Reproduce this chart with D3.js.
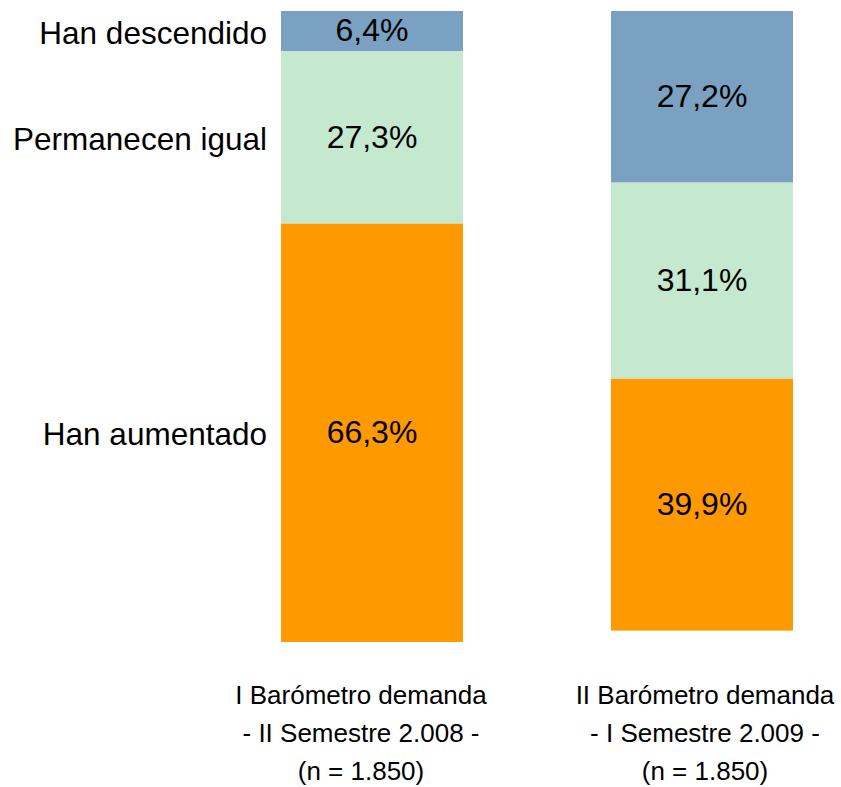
<!DOCTYPE html>
<html>
<head>
<meta charset="utf-8">
<script src="https://cdn.jsdelivr.net/npm/d3@7"></script>
<style>
  html, body { margin: 0; padding: 0; background: #fff; }
  svg { display: block; font-family: "Liberation Sans", Arial, sans-serif; }
</style>
</head>
<body>
<svg id="chart" width="841" height="787"></svg>
<script>
// ---- data ----
const periods = ["I Barómetro", "II Barómetro"];
const periodLabels = [
  ["I Barómetro demanda", "- II Semestre 2.008 -", "(n = 1.850)"],
  ["II Barómetro demanda", "- I Semestre 2.009 -", "(n = 1.850)"]
];
const categories = ["Han descendido", "Permanecen igual", "Han aumentado"];
const descendido = [6.4, 27.2];
const igual = [27.3, 31.1];
const aumentado = [66.3, 39.9];
const colors = ["#7aa1c2", "#c5e9cf", "#ff9900"];

// ---- layout ----
const svg = d3.select("#chart");
const x = d3.scalePoint().domain(periods).range([372, 702]);
const xLabel = d3.scalePoint().domain(periods).range([361, 705]);
const y = d3.scaleLinear().domain([0, 100]).range([11, 642]);

const seriesVals = [descendido, igual, aumentado];
const rows = periods.map((p, i) => {
  const r = { period: p };
  categories.forEach((c, j) => r[c] = seriesVals[j][i]);
  return r;
});
const stacked = d3.stack().keys(categories)(rows);

const bw = 182;
const g = svg.append("g");
stacked.forEach((layer, j) => {
  g.selectAll(null).data(layer).enter().append("rect")
    .attr("x", d => x(d.data.period) - bw / 2)
    .attr("width", bw)
    .attr("y", d => y(d[0]))
    .attr("height", d => y(d[1]) - y(d[0]))
    .attr("fill", colors[j]);
  g.selectAll(null).data(layer).enter().append("text")
    .attr("x", d => x(d.data.period))
    .attr("y", d => (y(d[0]) + y(d[1])) / 2)
    .attr("dy", "0.32em")
    .attr("text-anchor", "middle")
    .attr("font-size", 32)
    .attr("fill", "#000")
    .text(d => d3.format(".1f")(d[1] - d[0]).replace(".", ",") + "%");
});

// left category labels aligned with first bar's segments
stacked.forEach((layer, j) => {
  const d = layer[0];
  svg.append("text")
    .attr("x", 267)
    .attr("y", (y(d[0]) + y(d[1])) / 2)
    .attr("dy", "0.40em")
    .attr("text-anchor", "end")
    .attr("font-size", 31.5)
    .attr("fill", "#000")
    .text(categories[j]);
});

// bottom period labels
periods.forEach((p, i) => {
  const t = svg.append("text")
    .attr("text-anchor", "middle")
    .attr("font-size", 26)
    .attr("fill", "#000");
  periodLabels[i].forEach((line, k) => {
    t.append("tspan")
      .attr("x", xLabel(p))
      .attr("y", 704 + k * 38)
      .text(line);
  });
});
</script>
</body>
</html>
